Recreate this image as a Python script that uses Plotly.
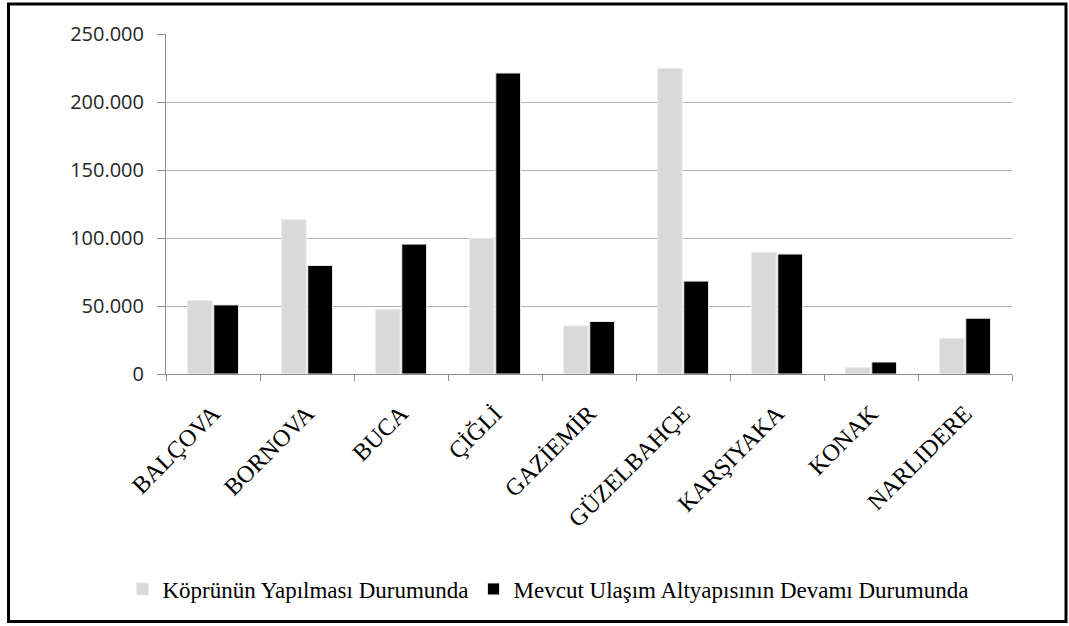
import plotly.graph_objects as go

# District names and the two scenario series (values in persons)
districts = ["BALÇOVA", "BORNOVA", "BUCA", "ÇİĞLİ", "GAZİEMİR",
             "GÜZELBAHÇE", "KARŞIYAKA", "KONAK", "NARLIDERE"]
bridge_case = [54000, 113500, 47600, 99700, 35400, 224700, 89600, 4700, 26300]
current_case = [50800, 79800, 95500, 221300, 38600, 68300, 88200, 8800, 41000]

series_names = ["Köprünün Yapılması Durumunda",
                "Mevcut Ulaşım Altyapısının Devamı Durumunda"]

y_ticks = [0, 50000, 100000, 150000, 200000, 250000]

fig = go.Figure()
fig.add_trace(go.Bar(
    x=districts, y=bridge_case, name=series_names[0],
    marker=dict(color="#d9d9d9", line=dict(color="#ececec", width=1)),
))
fig.add_trace(go.Bar(
    x=districts, y=current_case, name=series_names[1],
    marker=dict(color="#000000", line=dict(color="#e6e6e6", width=1)),
))

# Plot area in pixels: x 166..1012, y 34..374
L, R, T, B = 166, 1012, 34, 374
W, H = 1069, 626
pw, ph = R - L, B - T


def px_x(p):
    return (p - L) / pw


def px_y(p):
    return (B - p) / ph


serif = "Liberation Serif, Times New Roman, serif"

fig.update_layout(
    width=W, height=H,
    margin=dict(l=L, r=W - R, t=T, b=H - B),
    paper_bgcolor="white",
    plot_bgcolor="white",
    font=dict(family=serif, color="#000000"),
    separators=",.",
    barmode="group",
    bargap=0.44,
    bargroupgap=0.06,
    showlegend=True,
    legend=dict(
        orientation="h",
        x=px_x(548), xanchor="center",
        y=px_y(589), yanchor="middle",
        font=dict(family=serif, size=23, color="#000000"),
        itemwidth=30,
        traceorder="normal",
    ),
    xaxis=dict(
        type="category",
        tickangle=-45,
        tickfont=dict(family=serif, size=24, color="#000000"),
        showline=True, linecolor="#8c8c8c", linewidth=1,
        ticks="outside", ticklen=6, tickcolor="#8c8c8c",
        tickson="boundaries",
        ticklabelstandoff=15,
        showgrid=False,
    ),
    yaxis=dict(
        range=[0, 250000],
        tickvals=y_ticks,
        tickformat=",.0f",
        tickfont=dict(family="Open Sans", size=20, color="#262626"),
        showline=True, linecolor="#8c8c8c", linewidth=1,
        ticks="outside", ticklen=8, tickcolor="#8c8c8c",
        showgrid=True, gridcolor="#b4b4b4", gridwidth=1,
        zeroline=False,
        ticklabelstandoff=9,
    ),
    shapes=[
        # outer chart frame
        dict(type="rect", xref="paper", yref="paper",
             x0=px_x(8.5), x1=px_x(1066), y0=px_y(621.5), y1=px_y(4),
             line=dict(color="#000000", width=3), fillcolor="rgba(0,0,0,0)",
             layer="above"),
    ],
)

fig.write_html("out.html")
